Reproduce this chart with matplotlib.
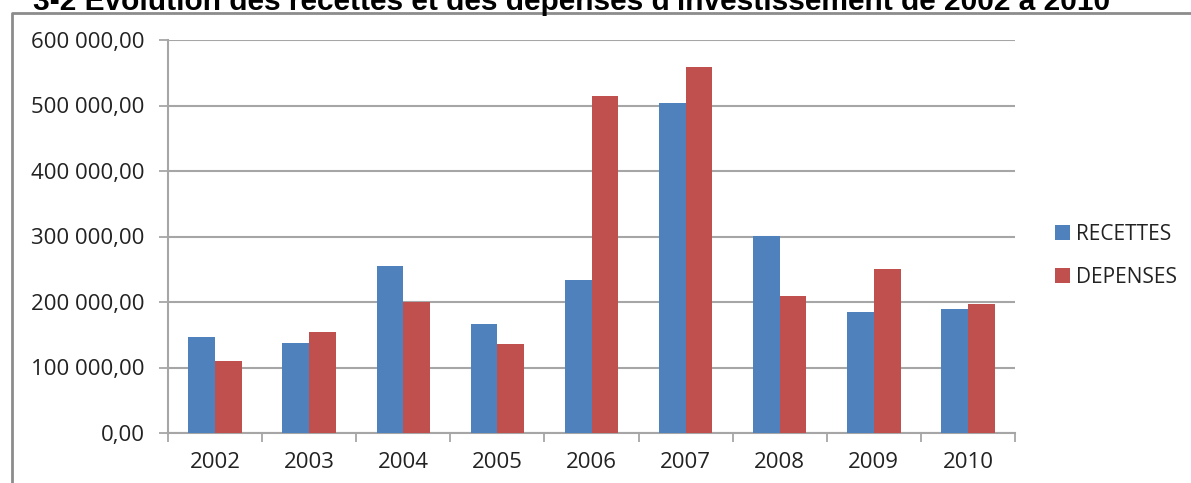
import numpy as np
import matplotlib
matplotlib.use("Agg")
import matplotlib.pyplot as plt
from matplotlib.lines import Line2D
from matplotlib.ticker import FuncFormatter, MultipleLocator

years = ["2002", "2003", "2004", "2005", "2006", "2007", "2008", "2009", "2010"]
recettes = [146600, 138000, 255000, 166000, 233000, 504000, 301000, 184000, 189000]
depenses = [110000, 154000, 200000, 135500, 514000, 559000, 209500, 251000, 197000]
series_names = ["RECETTES", "DEPENSES"]
title = "3-2 Evolution des recettes et des dépenses d'investissement de 2002 à 2010"

BLUE = "#4F81BD"
RED = "#C0504D"
GRID = "#A6A6A6"

W, H = 1191, 483
fig = plt.figure(figsize=(W / 100, H / 100), dpi=100)

# plot area in pixel coords: x 168..1015, y 40..433
ax = fig.add_axes([168 / W, 1 - 433 / H, (1015 - 168) / W, (433 - 40) / H])

x = np.arange(len(years))
w = 0.284
ax.bar(x - w / 2, recettes, w, color=BLUE, label=series_names[0], zorder=3)
ax.bar(x + w / 2, depenses, w, color=RED, label=series_names[1], zorder=3)

ax.set_xlim(-0.5, len(years) - 0.5)
ax.set_ylim(0, 600000)

ax.yaxis.set_major_locator(MultipleLocator(100000))
ax.yaxis.set_major_formatter(FuncFormatter(
    lambda v, p: f"{int(v):,}".replace(",", " ") + ",00" if v else "0,00"))
ax.grid(axis="y", color=GRID, linewidth=1.5, zorder=0)

ax.set_xticks(x)
ax.set_xticklabels(years)
ax.set_xticks(np.arange(-0.5, len(years)), minor=True)
ax.tick_params(axis="x", which="major", length=0, pad=14, labelsize=16,
               labelcolor="#222222")
ax.tick_params(axis="x", which="minor", length=6.5, width=1.3, color=GRID)
ax.tick_params(axis="y", length=6.5, width=1.3, color=GRID, pad=10.5,
               labelsize=16, labelcolor="#222222")
for lab in ax.get_xticklabels() + ax.get_yticklabels():
    lab.set_family("Open Sans")

for side in ["top", "right"]:
    ax.spines[side].set_visible(False)
for side in ["left", "bottom"]:
    ax.spines[side].set_color(GRID)
    ax.spines[side].set_linewidth(1.5)

leg = fig.legend(loc="upper left", bbox_to_anchor=(1036 / W, 1 - 205 / H),
                 frameon=False, handlelength=0.75, handleheight=0.75,
                 handletextpad=0.25, labelspacing=1.05,
                 prop={"family": "Open Sans", "size": 15})
for t in leg.get_texts():
    t.set_color("#222222")

# outer chart frame (only top and left visible in the crop)
fig.add_artist(Line2D([12 / W, 12 / W, 1.0], [0.0, 1 - 12.5 / H, 1 - 12.5 / H],
                      transform=fig.transFigure, color="#8C8C8C", linewidth=2))

# title, cut off at the top of the image as in the source
fig.text(33 / W, 1 - 10 / H, title, ha="left", va="baseline",
         fontsize=21.5, fontweight="bold", family="Liberation Sans", color="black")

fig.savefig("out.png", dpi=100, facecolor="white")
